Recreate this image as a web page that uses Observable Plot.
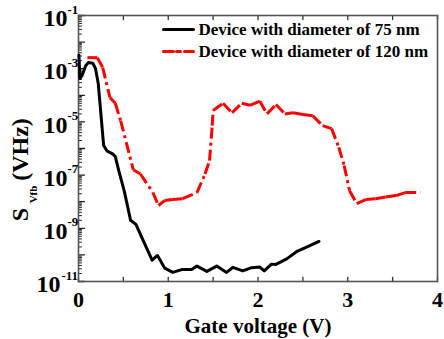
<!DOCTYPE html>
<html><head><meta charset="utf-8">
<script src="https://cdn.jsdelivr.net/npm/d3@7"></script>
<script src="https://cdn.jsdelivr.net/npm/@observablehq/plot@0.6"></script>
<style>
body{margin:0;background:#fff;}
#chart svg{display:block;}
</style></head><body><div id="chart"></div>
<script>
// Device with diameter of 75 nm
const voltage75 = [0.005, 0.015, 0.04, 0.08, 0.11, 0.16, 0.19, 0.22, 0.28, 0.32, 0.38, 0.41, 0.45, 0.51, 0.58, 0.64, 0.72, 0.82, 0.88, 0.96, 1.05, 1.15, 1.26, 1.32, 1.43, 1.54, 1.65, 1.72, 1.83, 1.93, 2.02, 2.07, 2.15, 2.2, 2.32, 2.44, 2.56, 2.68];
const noise75 = [3.2e-3, 4.3e-4, 5.5e-4, 1.3e-3, 1.7e-3, 1.6e-3, 1.0e-3, 2.8e-4, 1.3e-6, 7.9e-7, 6.3e-7, 5.0e-7, 1.4e-7, 2.5e-8, 2.0e-9, 1.4e-9, 3.5e-10, 6.3e-11, 9.5e-11, 3.2e-11, 2.2e-11, 2.8e-11, 2.8e-11, 3.8e-11, 2.4e-11, 3.8e-11, 2.2e-11, 3.4e-11, 2.5e-11, 3.3e-11, 3.5e-11, 2.5e-11, 4.5e-11, 4.4e-11, 7.1e-11, 1.4e-10, 2.1e-10, 3.2e-10];
// Device with diameter of 120 nm
const voltage120 = [0.10, 0.21, 0.27, 0.35, 0.41, 0.47, 0.61, 0.69, 0.83, 0.89, 0.96, 1.05, 1.16, 1.32, 1.41, 1.46, 1.49, 1.50, 1.61, 1.71, 1.82, 1.91, 2.02, 2.10, 2.20, 2.30, 2.39, 2.50, 2.61, 2.72, 2.82, 2.90, 2.96, 3.02, 3.10, 3.20, 3.31, 3.42, 3.54, 3.64, 3.81];
const noise120 = [2.6e-3, 2.6e-3, 1.1e-3, 8.3e-5, 5.0e-5, 1.1e-5, 1.6e-7, 1.1e-7, 2.2e-8, 7.2e-9, 1.1e-8, 1.2e-8, 1.3e-8, 2.2e-8, 1.1e-7, 3.5e-7, 7.2e-6, 2.7e-5, 5.0e-5, 2.2e-5, 5.0e-5, 4.2e-5, 6.0e-5, 2.0e-5, 4.5e-5, 2.0e-5, 2.2e-5, 1.9e-5, 1.7e-5, 7.2e-6, 5.6e-6, 1.1e-6, 2.3e-7, 2.6e-8, 8.5e-9, 1.2e-8, 1.3e-8, 1.5e-8, 1.7e-8, 2.2e-8, 2.2e-8];

const seriesNames = ["Device with diameter of 75 nm", "Device with diameter of 120 nm"];
const xTickValues = [0, 0.5, 1, 1.5, 2, 2.5, 3, 3.5, 4];
const xTickLabels = [0, 1, 2, 3, 4];
const yDecades = [-11, -10, -9, -8, -7, -6, -5, -4, -3, -2, -1];
const yLabelExponents = [-1, -3, -5, -7, -9, -11];
const yMinorMultipliers = [2, 3, 4, 5, 6, 7, 8, 9];
const xTitle = "Gate voltage (V)";
const yTitleMain = "S";
const yTitleSub = "Vfb";
const yTitleUnit = "(VHz)";

const yMajorTicks = yDecades.map(e => Math.pow(10, e));
const yMinorTicks = yDecades.slice(0, -1).flatMap(e => yMinorMultipliers.map(m => m * Math.pow(10, e)));
const d75 = voltage75.map((v, i) => ({v, s: noise75[i]}));
const seg120 = voltage120.slice(1).map((v, i) => ({x1: voltage120[i], y1: noise120[i], x2: v, y2: noise120[i + 1]}));

const lineShape = {draw(ctx, l) { ctx.moveTo(0, 0); ctx.lineTo(0, -l); }};
const font = "'Liberation Serif', 'Times New Roman', serif";
const dash = "11,4,3,4";
const T = {textAnchor: "middle", lineAnchor: "middle"};

const plot = Plot.plot({
  width: 444, height: 339,
  marginLeft: 78, marginRight: 7, marginTop: 15, marginBottom: 58,
  style: {fontFamily: font, fontWeight: "bold", background: "#fff", color: "#000", overflow: "visible"},
  x: {domain: [0, 4], axis: null},
  y: {type: "log", domain: [1e-11, 1e-1], axis: null},
  marks: [
    Plot.vector(yMajorTicks, {y: d => d, frameAnchor: "left", length: 6, rotate: 90, anchor: "start", shape: lineShape, stroke: "#222", strokeWidth: 1.3}),
    Plot.vector(yMinorTicks, {y: d => d, frameAnchor: "left", length: 3, rotate: 90, anchor: "start", shape: lineShape, stroke: "#222", strokeWidth: 1}),
    Plot.vector(xTickValues, {x: d => d, frameAnchor: "bottom", length: 4, rotate: 0, anchor: "start", shape: lineShape, stroke: "#333", strokeWidth: 1.3}),
    Plot.vector(xTickValues, {x: d => d, frameAnchor: "top", length: 4, rotate: 180, anchor: "start", shape: lineShape, stroke: "#333", strokeWidth: 1.3}),
    Plot.frame({stroke: "#555", strokeWidth: 1.6}),
    Plot.line(d75, {x: "v", y: "s", stroke: "#000", strokeWidth: 3, strokeLinejoin: "round"}),
    Plot.link(seg120, {x1: "x1", y1: "y1", x2: "x2", y2: "y2", stroke: "#ff0000", strokeWidth: 3, strokeDasharray: dash}),
    // legend
    Plot.vector([seriesNames[0]], {frameAnchor: "top-left", dx: 85, dy: 14, length: 30, rotate: 90, anchor: "start", shape: lineShape, stroke: "#000", strokeWidth: 3}),
    Plot.vector([seriesNames[1]], {frameAnchor: "top-left", dx: 85, dy: 36, length: 30, rotate: 90, anchor: "start", shape: lineShape, stroke: "#ff0000", strokeWidth: 3, strokeDasharray: "10,3,4,4"}),
    Plot.text([seriesNames[0]], {frameAnchor: "top-left", dx: 120, dy: 14, textAnchor: "start", lineAnchor: "middle", fontSize: 17, text: d => d}),
    Plot.text([seriesNames[1]], {frameAnchor: "top-left", dx: 120, dy: 36, textAnchor: "start", lineAnchor: "middle", fontSize: 17, text: d => d}),
    // x tick labels and title
    Plot.text(xTickLabels, {...T, x: d => d, frameAnchor: "bottom", dy: 18, fontSize: 22, text: d => String(d)}),
    Plot.text([xTitle], {...T, frameAnchor: "bottom", dy: 45, fontSize: 21, text: d => d}),
    // y tick labels
    Plot.text(yLabelExponents.filter(e => e > -10), {y: e => Math.pow(10, e), frameAnchor: "left", dx: -11, dy: 3, textAnchor: "end", lineAnchor: "middle", fontSize: 24, text: () => "10"}),
    Plot.text(yLabelExponents.filter(e => e <= -10), {y: e => Math.pow(10, e), frameAnchor: "left", dx: -18, dy: 3, textAnchor: "end", lineAnchor: "middle", fontSize: 24, text: () => "10"}),
    Plot.text(yLabelExponents.filter(e => e > -10), {y: e => Math.pow(10, e), frameAnchor: "left", dx: -11, dy: -6, textAnchor: "start", lineAnchor: "middle", fontSize: 13, text: e => String(e)}),
    Plot.text(yLabelExponents.filter(e => e <= -10), {y: e => Math.pow(10, e), frameAnchor: "left", dx: -17, dy: -6, textAnchor: "start", lineAnchor: "middle", fontSize: 13, text: e => String(e)}),
    // y title
    Plot.text([yTitleMain], {...T, frameAnchor: "left", dx: -58, dy: 66, rotate: -90, fontSize: 24, text: d => d}),
    Plot.text([yTitleSub], {...T, frameAnchor: "left", dx: -45, dy: 46, rotate: -90, fontSize: 11, text: d => d}),
    Plot.text([yTitleUnit], {...T, frameAnchor: "left", dx: -58, dy: 1, rotate: -90, fontSize: 24, text: d => d})
  ]
});
document.getElementById("chart").appendChild(plot);
</script>
</body></html>
